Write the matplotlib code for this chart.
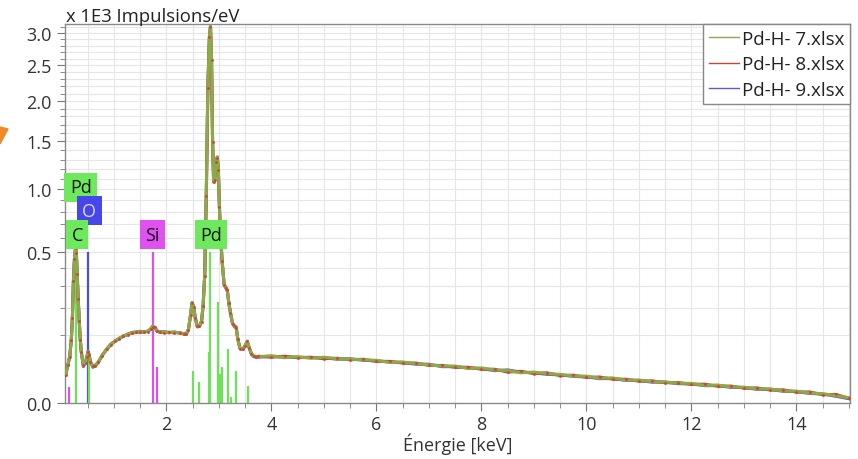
import numpy as np
import matplotlib
matplotlib.use("Agg")
import matplotlib.pyplot as plt
from matplotlib.ticker import FixedLocator, FormatStrFormatter, MultipleLocator
from matplotlib.patches import Polygon

# ── Data (counts in 1E3 impulsions/eV) ──────────────────────────────────────
energy_kev = [
    0.08, 0.12, 0.16, 0.19, 0.21, 0.23, 0.25, 0.27, 0.285, 0.30, 0.32, 0.34, 0.36, 0.38,
    0.42, 0.46, 0.49, 0.51, 0.53, 0.55, 0.60, 0.65, 0.70, 0.78, 0.86, 0.94, 1.02, 1.10,
    1.18, 1.26, 1.34, 1.42, 1.50, 1.58, 1.65, 1.70, 1.74, 1.78, 1.82, 1.88, 1.95, 2.05,
    2.15, 2.25, 2.33, 2.38, 2.42, 2.46, 2.49, 2.52, 2.55, 2.59,
    2.63, 2.67, 2.70, 2.73, 2.76, 2.79, 2.82, 2.84, 2.86, 2.88, 2.90, 2.92, 2.95, 2.97,
    2.99, 3.01, 3.03, 3.06, 3.10, 3.13, 3.16, 3.19, 3.22, 3.26, 3.30, 3.33, 3.36, 3.40,
    3.46, 3.50, 3.54, 3.58, 3.62, 3.66, 3.70,
    3.75, 4.00, 4.25, 4.50, 4.75, 5.00, 5.25, 5.50, 5.75, 6.00, 6.25, 6.50, 6.75, 7.00,
    7.25, 7.50, 7.75, 8.00, 8.25, 8.50, 8.75, 9.00, 9.25, 9.50, 9.75, 10.00, 10.25, 10.50,
    10.75, 11.00, 11.25, 11.50, 11.75, 12.00, 12.25, 12.50, 12.75, 13.00, 13.25, 13.50,
    13.75, 14.00, 14.25, 14.50, 14.75, 15.00,
]

counts_pdh7 = [
    0.018, 0.030, 0.048, 0.090, 0.160, 0.330, 0.460, 0.530, 0.500, 0.370, 0.240, 0.150, 0.090, 0.058,
    0.030, 0.036, 0.048, 0.058, 0.050, 0.038, 0.029, 0.031, 0.037, 0.050, 0.063, 0.075, 0.084, 0.091,
    0.098, 0.103, 0.108, 0.110, 0.112, 0.111, 0.113, 0.120, 0.130, 0.125, 0.114, 0.110, 0.111, 0.109,
    0.110, 0.108, 0.105, 0.104, 0.120, 0.170, 0.222, 0.200, 0.160, 0.128,
    0.130, 0.147, 0.210, 0.360, 0.950, 2.200, 2.950, 3.120, 2.600, 1.500, 1.080, 1.100, 1.280, 1.330,
    1.200, 0.850, 0.640, 0.450, 0.310, 0.295, 0.280, 0.220, 0.180, 0.140, 0.128, 0.126, 0.090, 0.066,
    0.064, 0.072, 0.084, 0.066, 0.053, 0.048, 0.047,
    0.047, 0.049, 0.045, 0.047, 0.044, 0.046, 0.043, 0.042, 0.041, 0.040, 0.036, 0.037, 0.034, 0.032,
    0.030, 0.030, 0.026, 0.027, 0.024, 0.023, 0.020, 0.021, 0.019, 0.018, 0.0160, 0.0158, 0.0135, 0.0138,
    0.0115, 0.0116, 0.0100, 0.0098, 0.0086, 0.0084, 0.0069, 0.0071, 0.0057, 0.0055, 0.0043, 0.0044,
    0.0032, 0.0031, 0.0022, 0.0019, 0.0012, 0.0006,
]

counts_pdh8 = [
    0.017, 0.031, 0.047, 0.088, 0.158, 0.325, 0.455, 0.525, 0.495, 0.365, 0.238, 0.148, 0.088, 0.056,
    0.031, 0.035, 0.047, 0.057, 0.051, 0.037, 0.030, 0.030, 0.036, 0.049, 0.064, 0.074, 0.085, 0.090,
    0.099, 0.102, 0.109, 0.111, 0.110, 0.112, 0.112, 0.121, 0.128, 0.126, 0.113, 0.111, 0.109, 0.110,
    0.108, 0.109, 0.104, 0.105, 0.118, 0.168, 0.220, 0.202, 0.158, 0.129,
    0.131, 0.145, 0.208, 0.355, 0.940, 2.180, 2.930, 3.100, 2.580, 1.490, 1.070, 1.090, 1.270, 1.320,
    1.190, 0.840, 0.635, 0.445, 0.305, 0.292, 0.278, 0.218, 0.178, 0.138, 0.129, 0.124, 0.091, 0.065,
    0.065, 0.071, 0.083, 0.067, 0.052, 0.049, 0.046,
    0.048, 0.046, 0.048, 0.045, 0.046, 0.043, 0.044, 0.041, 0.042, 0.038, 0.038, 0.035, 0.035, 0.031,
    0.031, 0.028, 0.028, 0.025, 0.025, 0.021, 0.022, 0.019, 0.020, 0.0165, 0.0170, 0.0145, 0.0148, 0.0125,
    0.0124, 0.0105, 0.0108, 0.0090, 0.0092, 0.0076, 0.0078, 0.0062, 0.0063, 0.0049, 0.0050, 0.0037,
    0.0038, 0.0026, 0.0027, 0.0015, 0.0016, 0.0005,
]

counts_pdh9 = [
    0.018, 0.029, 0.049, 0.089, 0.161, 0.328, 0.458, 0.528, 0.498, 0.368, 0.242, 0.149, 0.089, 0.057,
    0.029, 0.037, 0.049, 0.059, 0.049, 0.039, 0.028, 0.032, 0.036, 0.051, 0.062, 0.076, 0.083, 0.092,
    0.097, 0.104, 0.107, 0.109, 0.113, 0.110, 0.114, 0.119, 0.129, 0.124, 0.115, 0.109, 0.112, 0.108,
    0.111, 0.107, 0.106, 0.103, 0.119, 0.169, 0.221, 0.199, 0.161, 0.127,
    0.129, 0.146, 0.209, 0.358, 0.945, 2.190, 2.940, 3.110, 2.590, 1.495, 1.075, 1.095, 1.275, 1.325,
    1.195, 0.845, 0.638, 0.448, 0.308, 0.293, 0.279, 0.219, 0.179, 0.139, 0.127, 0.125, 0.089, 0.067,
    0.063, 0.073, 0.082, 0.065, 0.054, 0.047, 0.048,
    0.046, 0.048, 0.046, 0.046, 0.045, 0.045, 0.042, 0.043, 0.040, 0.039, 0.037, 0.036, 0.033, 0.033,
    0.029, 0.029, 0.027, 0.026, 0.023, 0.024, 0.021, 0.020, 0.018, 0.0175, 0.0155, 0.0150, 0.0130, 0.0132,
    0.0112, 0.0112, 0.0095, 0.0096, 0.0082, 0.0080, 0.0066, 0.0067, 0.0054, 0.0052, 0.0041, 0.0041,
    0.0030, 0.0029, 0.0020, 0.0018, 0.0010, 0.0004,
]

series_labels = ["Pd-H- 7.xlsx", "Pd-H- 8.xlsx", "Pd-H- 9.xlsx"]

# element marker lines: energy (keV), height, element
line_energy = [0.14, 0.27, 0.51, 0.52, 1.74, 1.83,
               2.50, 2.63, 2.81, 2.84, 2.98, 3.02, 3.05, 3.17, 3.24, 3.32, 3.55]
line_height = [0.0056, 0.50, 0.50, 0.047, 0.50, 0.028,
               0.0225, 0.0097, 0.057, 0.50, 0.224, 0.018, 0.028, 0.064, 0.0009, 0.022, 0.0063]
line_element = ["Si", "C", "O", "Pd", "Si", "Si",
                "Pd", "Pd", "Pd", "Pd", "Pd", "Pd", "Pd", "Pd", "Pd", "Pd", "Pd"]

# element tags: text, energy (keV), height
tag_text = ["Pd", "O", "C", "Si", "Pd"]
tag_energy = [0.37, 0.53, 0.30, 1.73, 2.85]
tag_height = [1.02, 0.81, 0.62, 0.62, 0.62]

y_major = [0.0, 0.5, 1.0, 1.5, 2.0, 2.5, 3.0]
y_minor = [0.1, 0.2, 0.3, 0.4, 0.6, 0.7, 0.8, 0.9, 1.1, 1.2, 1.3, 1.4, 1.6, 1.7, 1.8,
           1.9, 2.1, 2.2, 2.3, 2.4, 2.6, 2.7, 2.8, 2.9, 3.1]

# ── Style ───────────────────────────────────────────────────────────────────
series_colors = ["#8aab45", "#cc4436", "#6a55cc"]
element_colors = {"Pd": "#6fe05a", "C": "#6fe05a", "O": "#4d4de6", "Si": "#d655e6"}
tag_face = {"Pd": "#6ee85c", "C": "#6ee85c", "O": "#4646ea", "Si": "#e052f0"}
tag_color = {"Pd": "#111111", "C": "#111111", "O": "#dcdcff", "Si": "#111111"}

plt.rcParams["font.family"] = ["Open Sans", "DejaVu Sans"]

fig = plt.figure(figsize=(8.58, 4.6), dpi=100)
ax = fig.add_axes([0.0758, 0.1217, 0.9149, 0.824])


def fwd(y):
    return np.sqrt(np.clip(y, 0, None))


def inv(y):
    return np.square(y)


ax.set_yscale("function", functions=(fwd, inv))

# element lines
for e, h, el in zip(line_energy, line_height, line_element):
    ax.vlines(e, 0, h, color=element_colors[el], lw=1.6, zorder=2)

# spectra
all_counts = [counts_pdh7, counts_pdh8, counts_pdh9]
zorders = [5, 4, 3]
for counts, color, label, z in zip(all_counts, series_colors, series_labels, zorders):
    ax.plot(energy_kev, counts, color=color, lw=2.2, zorder=z, label=label,
            solid_joinstyle="round")
# red points showing through the band
ax.plot(energy_kev, counts_pdh8, ls="none", marker="o", ms=2.0, mew=0,
        color=series_colors[1], zorder=6)

# element tags
for t, e, h in zip(tag_text, tag_energy, tag_height):
    ax.text(e, h, t, ha="center", va="center", fontsize=13,
            color=tag_color[t], zorder=7,
            bbox=dict(boxstyle="square,pad=0.3", fc=tag_face[t], ec="none"))

ax.set_xlim(0.07, 15.02)
ax.set_ylim(0, 3.15)

ax.xaxis.set_major_locator(MultipleLocator(2))
ax.xaxis.set_minor_locator(MultipleLocator(0.5))
ax.yaxis.set_major_locator(FixedLocator(y_major))
ax.yaxis.set_minor_locator(FixedLocator(y_minor))
ax.yaxis.set_major_formatter(FormatStrFormatter("%.1f"))

ax.grid(True, which="both", color="#e6e6e6", lw=0.8, zorder=0)
ax.set_axisbelow(True)

ax.tick_params(which="major", length=6, color="#777777", labelsize=13,
               labelcolor="#333333")
ax.tick_params(axis="x", which="major", pad=2.5)
ax.tick_params(which="minor", length=3.5, color="#777777")
for s in ax.spines.values():
    s.set_color("#8a8a8a")
    s.set_linewidth(1.0)

ax.set_xlabel("Énergie [keV]", fontsize=13, color="#333333", labelpad=0)
fig.text(0.077, 0.952, "x 1E3 Impulsions/eV", fontsize=13.3, color="#222222",
         va="baseline", ha="left")

leg_handles = [plt.Line2D([0], [0], color=c, lw=1.0) for c in series_colors]
leg = ax.legend(leg_handles, series_labels, loc="upper right", fontsize=13.5,
                frameon=True, fancybox=False, framealpha=1, edgecolor="#888888",
                borderaxespad=0, handlelength=1.6, handletextpad=0.15,
                labelspacing=0.4, borderpad=0.3)
leg.get_frame().set_linewidth(1.0)
for txt in leg.get_texts():
    txt.set_color("#222222")

# orange slide arrow tip at the far left
fig.patches.append(Polygon([[0, 1 - 128 / 460], [8 / 858, 1 - 130 / 460], [0, 1 - 145 / 460]],
                           closed=True, transform=fig.transFigure, color="#f0892a",
                           figure=fig))

fig.savefig("out.png", dpi=100)
